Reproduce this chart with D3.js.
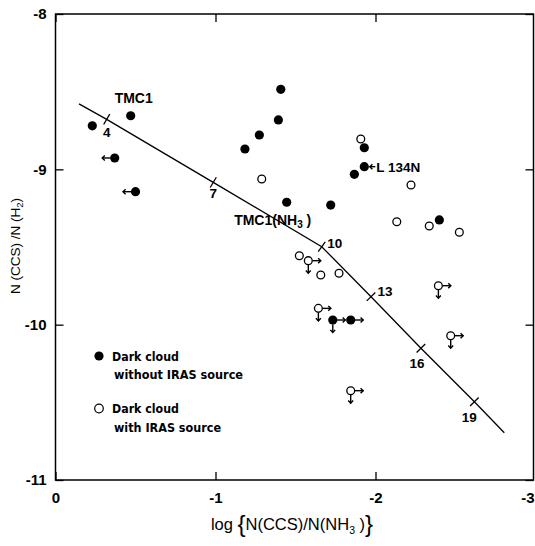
<!DOCTYPE html>
<html><head><meta charset="utf-8">
<script src="https://cdn.jsdelivr.net/npm/d3@7"></script>
<style>
html,body{margin:0;padding:0;background:#fff;}
svg{display:block;}
</style></head>
<body>
<svg id="chart" width="535" height="546"></svg>
<script>
// ---- data ----
const xTicks = [0, -1, -2, -3];
const yTicks = [-8, -9, -10, -11];

// Dark clouds without IRAS source (filled)
const filledX = [-0.23, -0.47, -0.37, -0.50, -1.184, -1.274, -1.408, -1.393, -1.93, -1.93, -1.868, -1.445, -1.72, -2.399, -1.733, -1.845];
const filledY = [-8.72, -8.655, -8.927, -9.144, -8.869, -8.779, -8.485, -8.682, -8.861, -8.983, -9.032, -9.212, -9.23, -9.326, -9.97, -9.97];
// limit flags: L = arrow to the left, R = arrow to the right, D = upper limit (down)
const filledFlags = ["", "", "L", "L", "", "", "", "", "", "", "", "", "", "", "RD", "R"];

// Dark clouds with IRAS source (open)
const openX = [-1.289, -1.908, -2.222, -2.133, -2.336, -2.524, -1.524, -1.58, -1.658, -1.772, -1.643, -2.393, -2.47, -1.845];
const openY = [-9.062, -8.805, -9.101, -9.337, -9.365, -9.405, -9.556, -9.588, -9.68, -9.669, -9.895, -9.749, -10.071, -10.425];
const openFlags = ["", "", "", "", "", "", "", "RD", "", "", "RD", "RD", "RD", "RD"];

// model curve
const curveX = [-0.147, -0.32, -0.986, -1.664, -1.972, -2.284, -2.618, -2.805];
const curveY = [-8.579, -8.678, -9.084, -9.498, -9.82, -10.152, -10.496, -10.696];
const curveTickLabels = ["", "4", "7", "10", "13", "16", "19", ""];

// named sources (index into filled arrays)
const sourceNames = ["TMC1", "TMC1(NH3)", "L 134N"];
const sourceIndex = [1, 11, 9];

const legendLabels = [["Dark cloud", "without IRAS source"], ["Dark cloud", "with IRAS source"]];

// ---- drawing ----
const svg = d3.select("#chart");
const x = d3.scaleLinear().domain([0, -3]).range([55.5, 535.5]);
const y = d3.scaleLinear().domain([-11, -8]).range([480, 14]);
const pL = x(0), pR = 533.5, pT = y(-8), pB = y(-11);
const font = "'Liberation Sans', Arial, Helvetica, sans-serif";

// axes
const gb = svg.append("g").attr("transform", `translate(0,${pB})`)
  .call(d3.axisBottom(x).tickValues(xTicks).tickSize(-8).tickPadding(12));
const gt = svg.append("g").attr("transform", `translate(0,${pT})`)
  .call(d3.axisTop(x).tickValues(xTicks).tickSize(-8).tickFormat(""));
const gl = svg.append("g").attr("transform", `translate(${pL},0)`)
  .call(d3.axisLeft(y).tickValues(yTicks).tickSize(-8).tickPadding(9));
const gr = svg.append("g").attr("transform", `translate(${pR},0)`)
  .call(d3.axisRight(y).tickValues(yTicks).tickSize(-8).tickFormat(""));
[gb, gt, gl, gr].forEach(g => {
  g.select(".domain").remove();
  g.selectAll(".tick line").attr("stroke", "#000").attr("stroke-width", 1.3);
  g.selectAll("text").attr("font-family", font).attr("font-weight", "bold")
    .attr("font-size", 15).attr("fill", "#000");
});
gb.selectAll(".tick text").text(d => d === 0 ? "0" : "-" + Math.abs(d))
  .filter(d => d === -3).attr("text-anchor", "end").attr("x", -1.5);
gl.selectAll(".tick text").text(d => "-" + Math.abs(d));

// frame
svg.append("rect").attr("x", pL).attr("y", pT)
  .attr("width", pR - pL).attr("height", pB - pT)
  .attr("fill", "none").attr("stroke", "#000").attr("stroke-width", 1.5);

// axis titles
const yt = svg.append("text").attr("transform", `translate(20,246) rotate(-90)`)
  .attr("text-anchor", "middle").attr("font-family", font).attr("font-size", 13.5).attr("fill", "#000");
yt.append("tspan").text("N (CCS) /N (H");
yt.append("tspan").attr("font-size", 9.5).attr("dy", 3).text("2");
yt.append("tspan").attr("dy", -3).text(")");

const xt = svg.append("text").attr("x", 292).attr("y", 530)
  .attr("text-anchor", "middle").attr("font-family", font).attr("font-size", 16.5).attr("fill", "#000");
xt.append("tspan").text("log ");
xt.append("tspan").attr("font-size", 24).attr("dy", 2).text("{");
xt.append("tspan").attr("dy", -2).text("N(CCS)/N(NH");
xt.append("tspan").attr("font-size", 10.5).attr("dy", 4).text("3");
xt.append("tspan").attr("dy", -4).text(" )");
xt.append("tspan").attr("font-size", 24).attr("dy", 2).text("}");

// model curve
const cpts = curveX.map((v, i) => [x(v), y(curveY[i])]);
svg.append("path").attr("d", d3.line()(cpts))
  .attr("fill", "none").attr("stroke", "#000").attr("stroke-width", 1.3);
const tickOff = {"4": [0, 18], "7": [0, 16], "10": [13, 1], "13": [14, -1], "16": [-4, 20], "19": [-5, 20]};
curveTickLabels.forEach((lab, i) => {
  if (!lab) return;
  const [px, py] = cpts[i];
  const a = cpts[Math.max(0, i - 1)], b = cpts[Math.min(cpts.length - 1, i + 1)];
  let dx = b[0] - a[0], dy = b[1] - a[1];
  const len = Math.hypot(dx, dy); dx /= len; dy /= len;
  const nx = -dy, ny = dx, h = 6;
  svg.append("line").attr("x1", px - nx * h).attr("y1", py - ny * h)
    .attr("x2", px + nx * h).attr("y2", py + ny * h)
    .attr("stroke", "#000").attr("stroke-width", 1.3);
  svg.append("text").attr("x", px + tickOff[lab][0]).attr("y", py + tickOff[lab][1])
    .attr("text-anchor", "middle").attr("font-family", font).attr("font-weight", "bold")
    .attr("font-size", 13.5).attr("fill", "#000").text(lab);
});

// arrows
function arrow(g, x1, y1, x2, y2) {
  g.append("line").attr("x1", x1).attr("y1", y1).attr("x2", x2).attr("y2", y2)
    .attr("stroke", "#000").attr("stroke-width", 1.4);
  const ang = Math.atan2(y2 - y1, x2 - x1), s = 3.6;
  const p = [[x2 - s * Math.cos(ang - 0.75), y2 - s * Math.sin(ang - 0.75)], [x2, y2],
             [x2 - s * Math.cos(ang + 0.75), y2 - s * Math.sin(ang + 0.75)]];
  g.append("path").attr("d", d3.line()(p)).attr("fill", "none")
    .attr("stroke", "#000").attr("stroke-width", 1.4);
}
function drawLimits(g, cx, cy, flags, r) {
  if (flags.includes("L")) arrow(g, cx - r, cy, cx - 12.5, cy);
  if (flags.includes("R")) arrow(g, cx + r, cy, cx + 12.5, cy);
  if (flags.includes("D")) arrow(g, cx, cy + r, cx, cy + 12.5);
}

const gp = svg.append("g");
filledX.forEach((v, i) => {
  const cx = x(v), cy = y(filledY[i]);
  drawLimits(gp, cx, cy, filledFlags[i], 4.3);
  gp.append("circle").attr("cx", cx).attr("cy", cy).attr("r", 4.6).attr("fill", "#000");
});
openX.forEach((v, i) => {
  const cx = x(v), cy = y(openY[i]);
  drawLimits(gp, cx, cy, openFlags[i], 4);
  gp.append("circle").attr("cx", cx).attr("cy", cy).attr("r", 3.9)
    .attr("fill", "#fff").attr("stroke", "#000").attr("stroke-width", 1.3);
});

// source labels
const labelOff = {"TMC1": [3, -13], "TMC1(NH3)": [-14, 23], "L 134N": [12, 5]};
sourceNames.forEach((name, k) => {
  const i = sourceIndex[k];
  const cx = x(filledX[i]), cy = y(filledY[i]);
  const [ox, oy] = labelOff[name];
  const t = svg.append("text").attr("font-family", font).attr("font-weight", "bold")
    .attr("font-size", 14).attr("fill", "#000").attr("x", cx + ox).attr("y", cy + oy);
  if (name === "TMC1(NH3)") {
    t.attr("text-anchor", "middle");
    t.append("tspan").text("TMC1(NH");
    t.append("tspan").attr("font-size", 10).attr("dy", 3).text("3");
    t.append("tspan").attr("dy", -3).text(" )");
  } else if (name === "L 134N") {
    t.attr("text-anchor", "start").attr("font-size", 13.5).text(name);
    arrow(svg, cx + 11, cy, cx + 5.5, cy);
  } else {
    t.attr("text-anchor", "middle").text(name);
  }
});

// legend
const lg = svg.append("g");
const legY = [356, 408.5];
legendLabels.forEach((lines, k) => {
  const c = lg.append("circle").attr("cx", 99).attr("cy", legY[k]).attr("r", 4.6);
  if (k === 0) c.attr("fill", "#000");
  else c.attr("r", 4.3).attr("fill", "#fff").attr("stroke", "#000").attr("stroke-width", 1.2);
  const widths = k === 0 ? [67, 129] : [67, 107];
  lines.forEach((ln, j) => {
    lg.append("text").attr("x", j === 0 ? 112 : 114).attr("y", legY[k] + 4.5 + j * 18.5)
      .attr("font-family", "'DejaVu Sans Condensed','DejaVu Sans',sans-serif").attr("font-weight", "bold")
      .attr("font-size", 12.5).attr("fill", "#000")
      .attr("textLength", widths[j]).attr("lengthAdjust", "spacingAndGlyphs").text(ln);
  });
});
</script>
</body></html>
